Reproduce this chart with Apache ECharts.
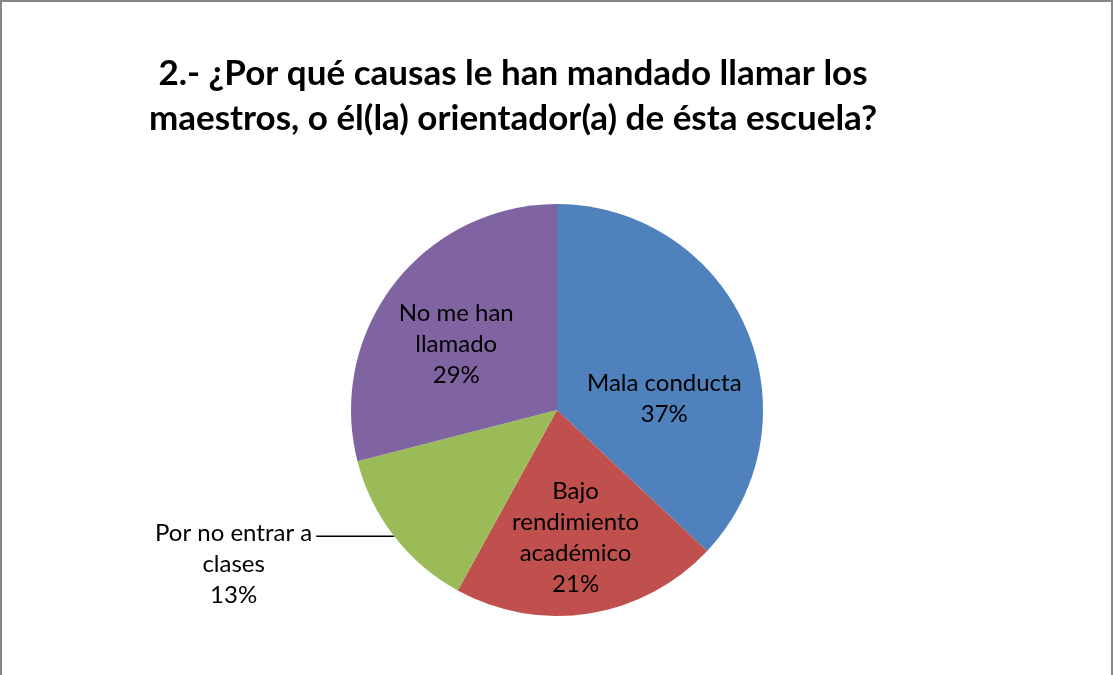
<!DOCTYPE html>
<html>
<head>
<meta charset="utf-8">
<script src="https://cdn.jsdelivr.net/npm/echarts@6/dist/echarts.min.js"></script>
<style>
  html, body { margin: 0; padding: 0; background: #fff; }
  #my_chart {
    width: 1109px; height: 673px;
    border-top: 2px solid #868686;
    border-left: 2px solid #868686;
    border-right: 2px solid #868686;
  }
</style>
</head>
<body>
<div id="my_chart"></div>
<script>
  var titleText = '2.- ¿Por qué causas le han mandado llamar los\nmaestros, o él(la) orientador(a) de ésta escuela?';
  var categories = ['Mala conducta', 'Bajo\nrendimiento\nacadémico', 'Por no entrar a\nclases', 'No me han\nllamado'];
  var percents = [37, 21, 13, 29];
  var colors = ['#4F81BD', '#C0504D', '#9BBB59', '#8064A2'];

  var font = 'Lato';
  var data = [];
  for (var i = 0; i < categories.length; i++) {
    data.push({ name: categories[i], value: percents[i], itemStyle: { color: colors[i] } });
  }
  // the small slice gets an outside label with a leader line, lines centred
  data[2].label = {
    position: 'outside',
    distanceToLabelLine: 4,
    formatter: function (p) {
      var lines = p.name.split('\n').concat([p.value + '%']);
      return '{s| }\n' + lines.map(function (t) { return '{c|' + t + '}'; }).join('\n');
    },
    rich: {
      s: { lineHeight: 56, fontSize: 10 },
      c: { align: 'center', fontFamily: font, fontSize: 24, lineHeight: 31, color: '#000' }
    }
  };
  data[2].labelLine = { show: true, length: 0, length2: 78, lineStyle: { color: '#000', width: 1.5 } };
  data[0].label = { offset: [10, 31] };
  data[1].label = { offset: [2, 23] };
  data[3].label = { offset: [-17, -1] };

  var mychart = echarts.init(document.getElementById('my_chart'));
  mychart.setOption({
    animation: false,
    title: {
      text: titleText,
      left: 506, top: 44,
      textAlign: 'center',
      textStyle: { fontFamily: font, fontWeight: 'bold', fontSize: 35, lineHeight: 45, color: '#000' }
    },
    series: [{
      type: 'pie',
      center: [555, 408],
      radius: 206,
      startAngle: 90,
      clockwise: true,
      data: data,
      label: {
        show: true,
        position: 'inside',
        formatter: '{b}\n{c}%',
        fontFamily: font,
        fontSize: 24,
        lineHeight: 31,
        color: '#000',
        align: 'center'
      },
      labelLine: { show: false },
      emphasis: { disabled: true }
    }]
  });
  window.addEventListener('resize', function () { mychart.resize(); });
</script>
</body>
</html>
